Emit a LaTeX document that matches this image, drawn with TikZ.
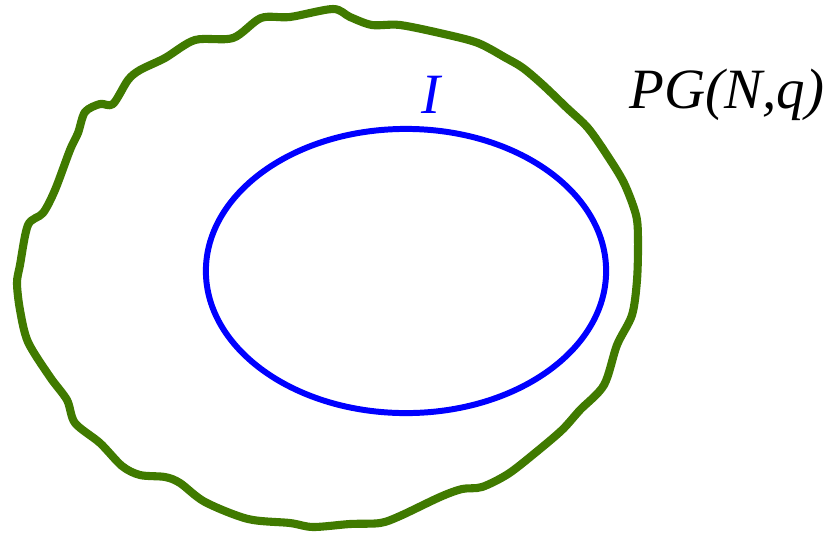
\documentclass[tikz,border=0pt]{standalone}
\usepackage{fontspec}
\setmainfont{Liberation Serif}
\usepackage{tikz}
\usepackage{xcolor}
\definecolor{spacegreen}{RGB}{64,122,0}

\begin{document}
\begin{tikzpicture}[x=0.01cm,y=-0.01cm,every node/.style={font=\fontsize{16.2}{18}\selectfont\itshape,inner sep=0pt}]
\useasboundingbox (0,0) rectangle (825,539);
% the space, drawn free hand
\draw[spacegreen,line width=2.3pt,line join=round] plot[smooth cycle,tension=0.5] coordinates {
(333,9) (350,17) (372,25) (400,25) (444,34) (478,43) (506,58) (523,68) (543,85) (567,108)
(588,128) (607,155) (624,183) (636,215) (638,240) (637,280) (632,315) (617,345) (604,385)
(580,410) (562,430) (535,453) (508,474) (482,487) (462,489) (440,497) (400,516) (380,523)
(350,524) (313,527) (290,523) (248,519) (205,502) (180,483) (165,477) (140,475) (122,466)
(100,443) (75,423) (67,400) (50,377) (28,342) (20,310) (17,283) (20,265) (28,225) (43,213)
(55,190) (70,150) (78,133) (85,112) (100,104) (113,104) (128,80) (140,70) (165,58) (195,40)
(233,38) (261,18) (290,17)};
% the subset
\draw[blue,line width=1.7pt] (406,271) ellipse [x radius=2.0cm,y radius=1.42cm];
\node[blue,anchor=base] (ilabel) at (431,113) {I};
\node[anchor=base west] (pglabel) at (629,108) {PG(N,q)};
\end{tikzpicture}
\end{document}
